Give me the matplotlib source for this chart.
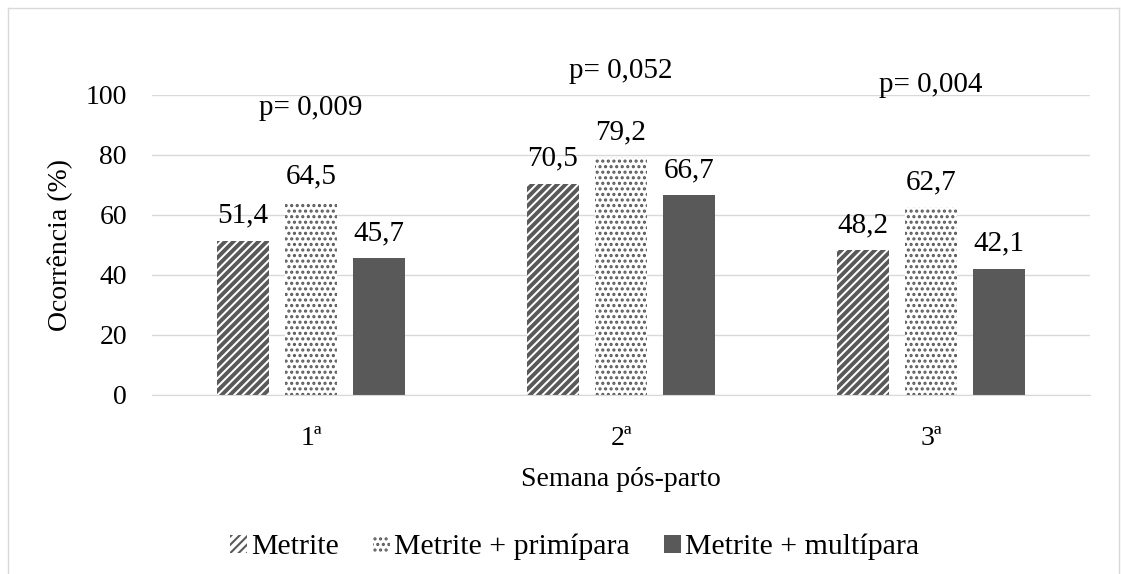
import numpy as np
import matplotlib as mpl
import matplotlib.pyplot as plt
from matplotlib.lines import Line2D

plt.rcParams['font.family'] = ['Liberation Serif', 'DejaVu Serif']
plt.rcParams['hatch.color'] = '#595959'

semanas = ['1ª', '2ª', '3ª']
metrite = [51.4, 70.5, 48.2]
primipara = [64.5, 79.2, 62.7]
multipara = [45.7, 66.7, 42.1]
p_labels = ['p= 0,009', 'p= 0,052', 'p= 0,004']
p_heights = [93.3, 105.7, 101.0]

fig = plt.figure(figsize=(11.21, 5.74), dpi=100)
ax = fig.add_axes([152 / 1121, 1 - 395 / 574, (1090 - 152) / 1121, 300 / 574])

x = np.arange(len(semanas))
w = 0.168
off = 0.22
dark = '#595959'

mpl.rcParams['hatch.linewidth'] = 2.8
b1 = ax.bar(x - off, metrite, w, color='white', hatch='////', edgecolor=dark, linewidth=0,
            label='Metrite')
mpl.rcParams['hatch.linewidth'] = 1.5
b2 = ax.bar(x, primipara, w, color='white', hatch='...', edgecolor=dark, linewidth=0,
            label='Metrite + primípara')
b3 = ax.bar(x + off, multipara, w, color=dark, label='Metrite + multípara')

for bars, vals in [(b1, metrite), (b2, primipara), (b3, multipara)]:
    for r, v in zip(bars, vals):
        ax.text(r.get_x() + r.get_width() / 2, v + 6, f'{v:.1f}'.replace('.', ','),
                ha='center', va='baseline', fontsize=21)

for i, (s, h) in enumerate(zip(p_labels, p_heights)):
    ax.text(i, h, s, ha='center', va='baseline', fontsize=21)

ax.set_xlim(-0.513, 2.513)
ax.set_ylim(0, 100)
ax.set_yticks(range(0, 101, 20))
ax.set_xticks(x)
ax.set_xticklabels(semanas)
ax.yaxis.grid(True, color='#d9d9d9', linewidth=1)
ax.set_axisbelow(True)
for sp in ['top', 'right', 'left']:
    ax.spines[sp].set_visible(False)
ax.spines['bottom'].set_color('#d9d9d9')
ax.tick_params(axis='both', length=0, labelsize=20)
ax.tick_params(axis='y', pad=18)
ax.tick_params(axis='x', pad=22)
ax.set_ylabel('Ocorrência (%)', fontsize=20, labelpad=9)
ax.set_xlabel('Semana pós-parto', fontsize=20, labelpad=12)

fig.legend(handles=[b1, b2, b3], loc='center', bbox_to_anchor=(575 / 1121, 1 - 547 / 574),
           ncol=3, frameon=False, fontsize=21.5, handlelength=0.55, handleheight=0.55,
           handletextpad=0.15, columnspacing=1.15)

# outer chart frame
border = '#d9d9d9'
fig.add_artist(Line2D([8 / 1121, 8 / 1121], [0, 1 - 8 / 574], color=border, lw=1))
fig.add_artist(Line2D([8 / 1121, 1119 / 1121], [1 - 8 / 574, 1 - 8 / 574], color=border, lw=1))
fig.add_artist(Line2D([1119 / 1121, 1119 / 1121], [0, 1 - 8 / 574], color=border, lw=1))

fig.savefig('out.png', dpi=100)
